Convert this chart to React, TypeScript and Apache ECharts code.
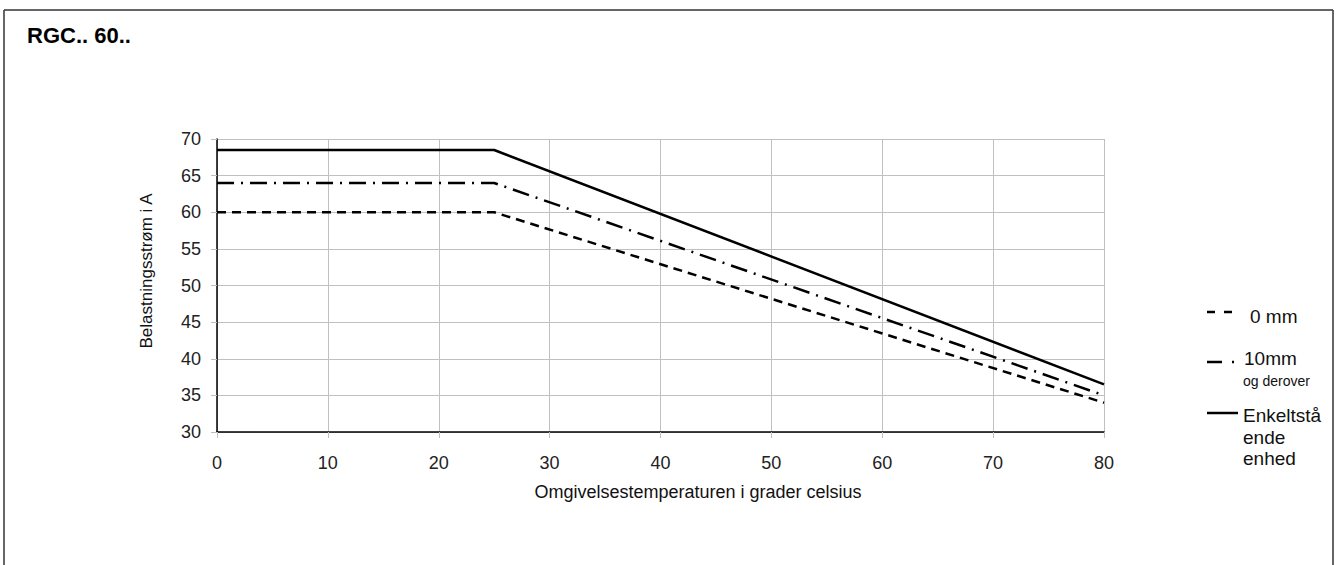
import React, { useEffect, useRef } from "react";
import * as echarts from "echarts";

const title = "RGC.. 60..";
const xName = "Omgivelsestemperaturen i grader celsius";
const yName = "Belastningsstrøm i A";

const temps = [0, 25, 80];
const s0mm = [60, 60, 34];
const s10mm = [64, 64, 35];
const sSingle = [68.5, 68.5, 36.5];

const xMin = 0, xMax = 80, xStep = 10;
const yMin = 30, yMax = 70, yStep = 5;

const FONT = "'Liberation Sans', Arial, Helvetica, sans-serif";

export default function App() {
  const ref = useRef<HTMLDivElement>(null);
  useEffect(() => {
    document.body.style.margin = "0";
    const chart = echarts.init(ref.current!, null, { renderer: "svg" });
    const mk = (vals: number[]) => temps.map((t, i) => [t, vals[i]]);
    const lineSeries = (name: string, vals: number[], type: any) => ({
      name,
      type: "line",
      data: mk(vals),
      symbol: "none",
      lineStyle: { color: "#000", width: 2.5, type },
    });
    chart.setOption({
      animation: false,
      backgroundColor: "#fff",
      textStyle: { fontFamily: FONT },
      grid: { left: 217, right: 232, top: 139, bottom: 133 },
      xAxis: {
        type: "value",
        min: xMin,
        max: xMax,
        interval: xStep,
        axisLine: { lineStyle: { color: "#000", width: 1.5 } },
        axisTick: { show: true, length: 6, lineStyle: { color: "#c0c0c0" } },
        axisLabel: { color: "#222", fontSize: 18, margin: 22, fontFamily: FONT },
        splitLine: { show: true, lineStyle: { color: "#c0c0c0", width: 1 } },
      },
      yAxis: {
        type: "value",
        min: yMin,
        max: yMax,
        interval: yStep,
        axisLine: { show: true, lineStyle: { color: "#000", width: 1.5 } },
        axisTick: { show: true, length: 6, lineStyle: { color: "#c0c0c0" } },
        axisLabel: { color: "#222", fontSize: 18, margin: 16, fontFamily: FONT },
        splitLine: { show: true, lineStyle: { color: "#c0c0c0", width: 1 } },
      },
      series: [
        lineSeries("0 mm", s0mm, [9, 6]),
        lineSeries("10mm og derover", s10mm, [17, 7, 2, 7]),
        lineSeries("Enkeltstående enhed", sSingle, "solid"),
      ],
      graphic: [
        { type: "line", shape: { x1: 4, y1: 10, x2: 1333, y2: 10 }, style: { stroke: "#333", lineWidth: 1.5 } },
        { type: "line", shape: { x1: 4, y1: 10, x2: 4, y2: 570 }, style: { stroke: "#333", lineWidth: 1.5 } },
        { type: "line", shape: { x1: 1333, y1: 10, x2: 1333, y2: 570 }, style: { stroke: "#333", lineWidth: 1.5 } },
        {
          type: "text", x: 27, y: 35,
          style: { text: title, font: `bold 22px ${FONT}`, fill: "#000", verticalAlign: "middle" },
        },
        {
          type: "text", x: 698, y: 492,
          style: { text: xName, font: `18px ${FONT}`, fill: "#111", align: "center", verticalAlign: "middle" },
        },
        {
          type: "text", x: 146, y: 271, rotation: Math.PI / 2,
          style: { text: yName, font: `17px ${FONT}`, fill: "#111", align: "center", verticalAlign: "middle" },
        },
        // legend
        { type: "line", shape: { x1: 1207, y1: 312, x2: 1233, y2: 312 }, style: { stroke: "#000", lineWidth: 2.5, lineDash: [8, 9] } },
        { type: "text", x: 1250, y: 316, style: { text: "0 mm", font: `19px ${FONT}`, fill: "#111", verticalAlign: "middle" } },
        { type: "line", shape: { x1: 1207, y1: 362, x2: 1235, y2: 362 }, style: { stroke: "#000", lineWidth: 2.5, lineDash: [15, 10, 2, 20] } },
        { type: "text", x: 1244, y: 358, style: { text: "10mm", font: `19px ${FONT}`, fill: "#111", verticalAlign: "middle" } },
        { type: "text", x: 1243, y: 381, style: { text: "og derover", font: `14px ${FONT}`, fill: "#111", verticalAlign: "middle" } },
        { type: "line", shape: { x1: 1207, y1: 413, x2: 1238, y2: 413 }, style: { stroke: "#000", lineWidth: 2.5 } },
        { type: "text", x: 1243, y: 415, style: { text: "Enkeltstå", font: `19px ${FONT}`, fill: "#111", verticalAlign: "middle" } },
        { type: "text", x: 1243, y: 437, style: { text: "ende", font: `19px ${FONT}`, fill: "#111", verticalAlign: "middle" } },
        { type: "text", x: 1243, y: 458, style: { text: "enhed", font: `19px ${FONT}`, fill: "#111", verticalAlign: "middle" } },
      ],
    });
    return () => chart.dispose();
  }, []);
  return <div ref={ref} style={{ width: 1336, height: 565 }} />;
}
